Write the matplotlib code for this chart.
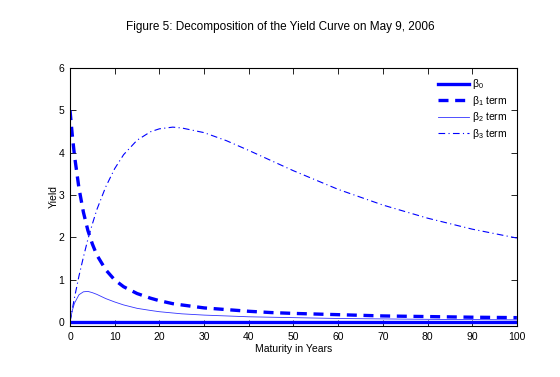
import matplotlib
matplotlib.use("Agg")
import matplotlib.pyplot as plt

plt.rcParams['font.family'] = ['Liberation Sans', 'DejaVu Sans']
plt.rcParams['mathtext.default'] = 'regular'

# maturidades (anos) e componentes
maturidade = [0, 0.5, 1, 2, 3, 4, 5, 6, 8, 10, 12, 15, 18, 20, 23, 25,
              30, 35, 40, 45, 50, 60, 70, 80, 90, 100]
beta0 = [0.0] * len(maturidade)
beta1_termo = [5.00, 4.42, 3.93, 3.16, 2.59, 2.16, 1.84, 1.58, 1.23, 0.99, 0.83,
               0.67, 0.56, 0.50, 0.43, 0.40, 0.33, 0.29, 0.25, 0.22, 0.20,
               0.17, 0.14, 0.125, 0.11, 0.10]
beta2_termo = [0.00, 0.26, 0.44, 0.64, 0.71, 0.72, 0.69, 0.65, 0.55, 0.47, 0.40,
               0.32, 0.27, 0.24, 0.21, 0.19, 0.16, 0.14, 0.12, 0.11, 0.10,
               0.08, 0.07, 0.06, 0.054, 0.048]
beta3_termo = [0.00, 0.29, 0.57, 1.08, 1.53, 1.95, 2.31, 2.65, 3.19, 3.62, 3.95,
               4.29, 4.49, 4.56, 4.60, 4.58, 4.47, 4.28, 4.05, 3.81, 3.57,
               3.13, 2.76, 2.45, 2.19, 1.98]

rotulos = [r'β$_0$', r'β$_1$ term', r'β$_2$ term', r'β$_3$ term']

fig = plt.figure(figsize=(5.6, 3.77), dpi=100)
ax = fig.add_axes([0.125, 0.135, 0.798, 0.685])

azul = (0, 0, 1)
ax.plot(maturidade, beta0, color=azul, lw=2.4, label=rotulos[0])
ax.plot(maturidade, beta1_termo, color=azul, lw=2.4, ls=(0, (3, 2)), label=rotulos[1])
ax.plot(maturidade, beta2_termo, color=azul, lw=0.6, alpha=0.8, label=rotulos[2])
ax.plot(maturidade, beta3_termo, color=azul, lw=0.8, ls=(0, (6, 3, 1, 3)), label=rotulos[3])

ax.set_xlim(0, 100)
ax.set_ylim(-0.1, 6)
ax.set_xticks(range(0, 101, 10))
ax.set_yticks(range(0, 7))
ax.tick_params(direction='in', top=True, right=True, length=4, width=0.6,
               labelsize=7.5, pad=4)
for s in ax.spines.values():
    s.set_linewidth(0.8)

ax.set_xlabel('Maturity in Years', fontsize=7.5, labelpad=2)
ax.set_ylabel('Yield', fontsize=7.5, labelpad=0)
fig.suptitle('Figure 5: Decomposition of the Yield Curve on May 9, 2006',
             fontsize=8.5, y=0.945)

leg = ax.legend(loc='upper right', frameon=False, fontsize=7.5, handlelength=3,
                handletextpad=0.3, labelspacing=0.25, borderaxespad=0.5)

fig.savefig('out.png', dpi=100)
